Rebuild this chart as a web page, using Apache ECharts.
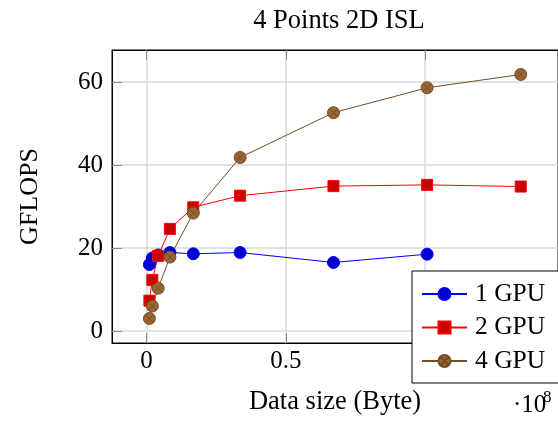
<!DOCTYPE html>
<html>
<head>
<meta charset="utf-8">
<script src="https://cdn.jsdelivr.net/npm/echarts@6/dist/echarts.min.js"></script>
<style>
html,body{margin:0;padding:0;background:#fff;}
#chart{width:558px;height:421px;}
</style>
</head>
<body>
<div id="chart"></div>
<script>
// Data (x in units of 1e8 Byte, y in GFLOPS)
const xGpu1 = [0.0105, 0.021, 0.042, 0.084, 0.168, 0.336, 0.671, 1.007];
const gpu1 = [16.0, 17.6, 18.3, 18.9, 18.6, 18.9, 16.5, 18.5];
const xGpu24 = [0.0105, 0.021, 0.042, 0.084, 0.168, 0.336, 0.671, 1.007, 1.343];
const gpu2 = [7.3, 12.3, 18.1, 24.6, 29.8, 32.6, 34.9, 35.2, 34.8];
const gpu4 = [3.0, 6.0, 10.3, 17.8, 28.4, 41.8, 52.6, 58.6, 61.8];
const seriesNames = ['1 GPU', '2 GPU', '4 GPU'];
const xTicks = [0, 0.5, 1];
const yTicks = [0, 20, 40, 60];

const FONT = '"Liberation Serif", "DejaVu Serif", serif';
const pairs = (xs, ys) => xs.map((x, i) => [x, ys[i]]);
const otimes = 'path://M0,-1A1,1,0,1,1,0,1A1,1,0,1,1,0,-1ZM-0.707,-0.707L0.707,0.707M-0.707,0.707L0.707,-0.707';

const chart = echarts.init(document.getElementById('chart'), null, {renderer: 'canvas'});
const xMin = -0.1237, xMax = 1.4767;
const yMin = -2.9, yMax = 67.7;

const option = {
  animation: false,
  backgroundColor: '#fff',
  textStyle: {fontFamily: FONT},
  title: {
    text: '4 Points 2D ISL',
    left: 334, top: 3,
    textAlign: 'center',
    textStyle: {fontFamily: FONT, fontSize: 26.5, fontWeight: 'normal', color: '#000'}
  },
  grid: {left: 112, top: 50, width: 448, height: 297, show: true, borderColor: '#000', borderWidth: 1, backgroundColor: 'transparent'},
  legend: {
    orient: 'vertical',
    left: 412, top: 271,
    padding: [10, 24, 9, 9],
    itemGap: 7.5,
    itemWidth: 45,
    itemHeight: 15,
    backgroundColor: '#fff',
    borderColor: '#000',
    borderWidth: 1,
    borderRadius: 0,
    data: seriesNames,
    textStyle: {fontFamily: FONT, fontSize: 25.5, color: '#000', lineHeight: 24, padding: [0, 0, 0, 3]}
  },
  xAxis: [{
    type: 'value', min: xMin, max: xMax,
    name: 'Data size (Byte)', nameLocation: 'middle', nameGap: 46,
    nameTextStyle: {fontFamily: FONT, fontSize: 26.5, color: '#000'},
    axisLine: {show: true, onZero: false, lineStyle: {color: '#000', width: 1}},
    axisTick: {show: true, inside: true, length: 10, customValues: xTicks, lineStyle: {color: '#8c8c8c', width: 1}},
    axisLabel: {show: true, customValues: xTicks, margin: 6, fontFamily: FONT, fontSize: 25, color: '#000', formatter: v => String(v)},
    splitLine: {show: true, lineStyle: {color: '#d9d9d9', width: 1.5}}
  }, {
    type: 'value', min: xMin, max: xMax, position: 'top',
    axisLine: {show: true, onZero: false, lineStyle: {color: '#000', width: 1}},
    axisTick: {show: true, inside: true, length: 10, customValues: xTicks, lineStyle: {color: '#8c8c8c', width: 1}},
    axisLabel: {show: false},
    splitLine: {show: false}
  }],
  yAxis: {
    type: 'value', min: yMin, max: yMax,
    name: 'GFLOPS', nameLocation: 'middle', nameGap: 69, nameRotate: 90,
    nameTextStyle: {fontFamily: FONT, fontSize: 26, color: '#000'},
    axisLine: {show: true, onZero: false, lineStyle: {color: '#000', width: 1}},
    axisTick: {show: true, inside: true, length: 10, customValues: yTicks, lineStyle: {color: '#8c8c8c', width: 1}},
    axisLabel: {show: true, customValues: yTicks, margin: 9, fontFamily: FONT, fontSize: 25, color: '#000'},
    splitLine: {show: true, lineStyle: {color: '#d9d9d9', width: 1.5}}
  },
  graphic: [
    {type: 'text', left: 513, top: 393, z: 100, style: {text: '·10', fontFamily: FONT, fontSize: 25, fill: '#000'}},
    {type: 'text', left: 543, top: 389, z: 100, style: {text: '8', fontFamily: FONT, fontSize: 17, fill: '#000'}}
  ],
  series: [{
    name: seriesNames[0], type: 'line', data: pairs(xGpu1, gpu1),
    symbol: 'circle', symbolSize: 12,
    lineStyle: {color: '#0000ff', width: 1},
    itemStyle: {color: '#0000cc', borderColor: '#0000ff', borderWidth: 1}
  }, {
    name: seriesNames[1], type: 'line', data: pairs(xGpu24, gpu2),
    symbol: 'rect', symbolSize: 11,
    lineStyle: {color: '#ff0000', width: 1},
    itemStyle: {color: '#cc0000', borderColor: '#ff0000', borderWidth: 1}
  }, {
    name: seriesNames[2], type: 'line', data: pairs(xGpu24, gpu4),
    symbol: otimes, symbolSize: 12,
    lineStyle: {color: '#734d26', width: 1},
    itemStyle: {color: '#996633', borderColor: '#734d26', borderWidth: 1}
  }]
};
chart.setOption(option);
</script>
</body>
</html>
